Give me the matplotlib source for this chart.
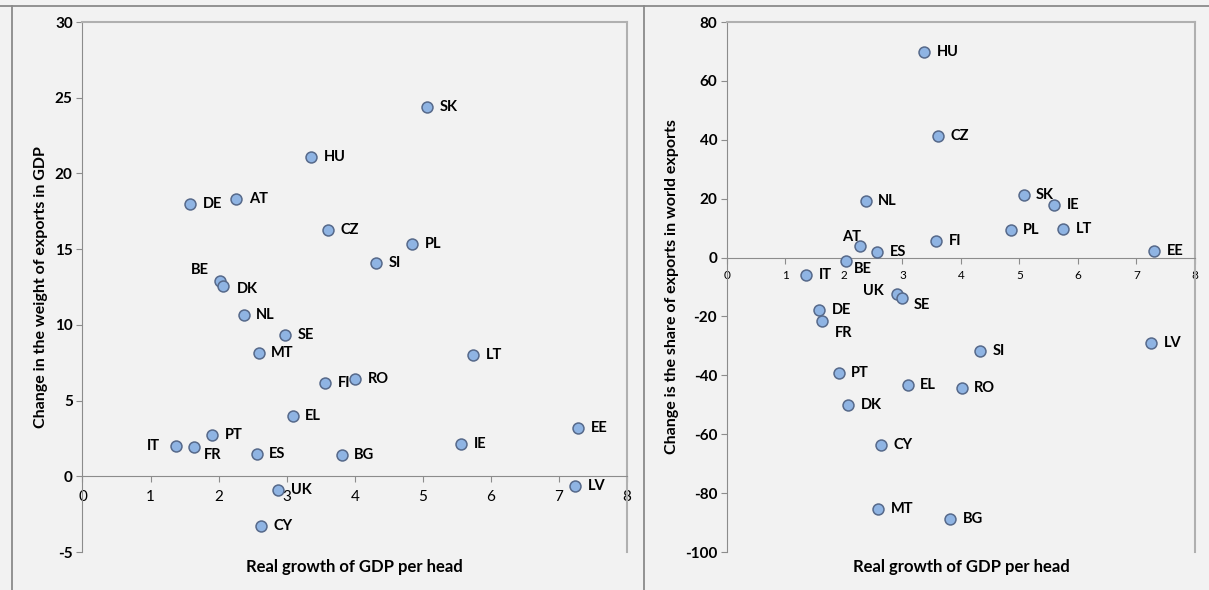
"""Two Excel-style scatter panels: export changes vs real GDP-per-head growth."""

import matplotlib.pyplot as plt
from matplotlib.lines import Line2D

plt.rcParams['font.family'] = ['Lato', 'DejaVu Sans']
plt.rcParams['axes.unicode_minus'] = False

BG = '#f2f2f2'
AXIS = '#8c8c8c'
FILL = '#8fb4e3'
EDGE = '#56698a'

# Left panel: change in the weight of exports in GDP
left_codes = ['SK', 'HU', 'AT', 'DE', 'CZ', 'PL', 'SI', 'BE', 'DK', 'NL',
              'SE', 'MT', 'LT', 'FI', 'RO', 'EL', 'EE', 'PT', 'IT', 'FR',
              'IE', 'ES', 'BG', 'UK', 'LV', 'CY']
left_growth = [5.06, 3.36, 2.26, 1.58, 3.61, 4.84, 4.31, 2.02, 2.06, 2.37,
               2.98, 2.59, 5.74, 3.57, 4.01, 3.09, 7.28, 1.91, 1.37, 1.64,
               5.56, 2.56, 3.81, 2.88, 7.24, 2.62]
left_change = [24.4, 21.1, 18.3, 17.95, 16.25, 15.35, 14.1, 12.9, 12.55, 10.64,
               9.34, 8.17, 8.0, 6.17, 6.43, 3.96, 3.19, 2.73, 2.03, 1.96,
               2.16, 1.50, 1.43, -0.88, -0.64, -3.26]

# Right panel: change in the share of exports in world exports
right_codes = ['HU', 'CZ', 'NL', 'SK', 'IE', 'PL', 'LT', 'AT', 'ES', 'FI',
               'EE', 'BE', 'IT', 'UK', 'SE', 'DE', 'FR', 'SI', 'LV', 'PT',
               'EL', 'RO', 'DK', 'CY', 'MT', 'BG']
right_growth = [3.37, 3.61, 2.37, 5.07, 5.59, 4.85, 5.75, 2.27, 2.57, 3.58,
                7.30, 2.03, 1.35, 2.90, 3.00, 1.58, 1.63, 4.33, 7.25, 1.91,
                3.09, 4.01, 2.07, 2.63, 2.59, 3.82]
right_change = [69.7, 41.4, 19.3, 21.3, 17.9, 9.3, 9.6, 3.85, 1.9, 5.7,
                2.3, -1.0, -6.0, -12.4, -13.6, -17.7, -21.4, -31.7, -29.1, -39.1,
                -43.2, -44.2, -50.2, -63.5, -85.3, -88.9]

# label placement tweaks (offset in points, horizontal alignment)
left_offsets = {'BE': (-8, 8, 'right'), 'DK': (10, -2, 'left'),
                'IT': (-11, 0, 'right'), 'FR': (7, -6, 'left')}
right_offsets = {'AT': (1, 7, 'right'), 'BE': (6, -6, 'left'),
                 'UK': (-9, 2, 'right'), 'SE': (8, -5, 'left'),
                 'FR': (9, -9, 'left')}


def draw_panel(ax, codes, xs, ys, offsets, ylim, ystep, ylabel, xtick_size, xtick_pad):
    ax.set_facecolor(BG)
    ax.scatter(xs, ys, s=62, facecolor=FILL, edgecolor=EDGE, linewidth=1.1, zorder=3)
    for code, x, y in zip(codes, xs, ys):
        dx, dy, ha = offsets.get(code, (9, 0, 'left'))
        ax.annotate(code, (x, y), xytext=(dx, dy), textcoords='offset points',
                    ha=ha, va='center', fontsize=10.5, fontweight='bold', zorder=4)

    ax.set_xlim(0, 8)
    ax.set_ylim(*ylim)
    ax.set_yticks(range(ylim[0], ylim[1] + 1, ystep))
    ax.tick_params(axis='y', labelsize=11, length=4, color=AXIS, pad=3)
    for lab in ax.get_yticklabels():
        lab.set_fontweight('bold')

    # x axis crosses at y=0, Excel-style
    ax.spines['bottom'].set_position(('data', 0))
    ax.spines['bottom'].set_color(AXIS)
    ax.spines['left'].set_color(AXIS)
    ax.spines['top'].set_color('#b0b0b0')
    ax.spines['right'].set_color('#b0b0b0')
    ax.spines['top'].set_linewidth(1.5)
    ax.spines['right'].set_linewidth(1.5)
    ax.set_xticks(range(0, 9))
    ax.tick_params(axis='x', labelsize=xtick_size, length=4, color=AXIS, pad=xtick_pad)

    ax.set_ylabel(ylabel, fontsize=11.5, fontweight='bold')
    ax.text(0.5, -0.028, 'Real growth of GDP per head', transform=ax.transAxes,
            ha='center', va='center', fontsize=12, fontweight='bold')


fig = plt.figure(figsize=(12.09, 5.90), dpi=100)
fig.patch.set_facecolor(BG)

ax1 = fig.add_axes([0.0682, 0.0644, 0.4504, 0.8983])
ax2 = fig.add_axes([0.6013, 0.0644, 0.3871, 0.8983])

draw_panel(ax1, left_codes, left_growth, left_change, left_offsets,
           (-5, 30), 5, 'Change in the weight of exports in GDP', 11, 6)
draw_panel(ax2, right_codes, right_growth, right_change, right_offsets,
           (-100, 80), 20, 'Change is the share of exports in world exports', 8.5, 5)
ax1.yaxis.labelpad = 5
ax2.yaxis.labelpad = 4

# outer chart frames
frame = dict(color='#8a8a8a', lw=1.3, transform=fig.transFigure)
fig.add_artist(Line2D([0, 1], [1 - 6 / 590] * 2, **frame))
fig.add_artist(Line2D([12 / 1209] * 2, [0, 1 - 6 / 590], **frame))
fig.add_artist(Line2D([644 / 1209] * 2, [0, 1 - 6 / 590], **frame))

fig.savefig('out.png', dpi=100, facecolor=BG)
